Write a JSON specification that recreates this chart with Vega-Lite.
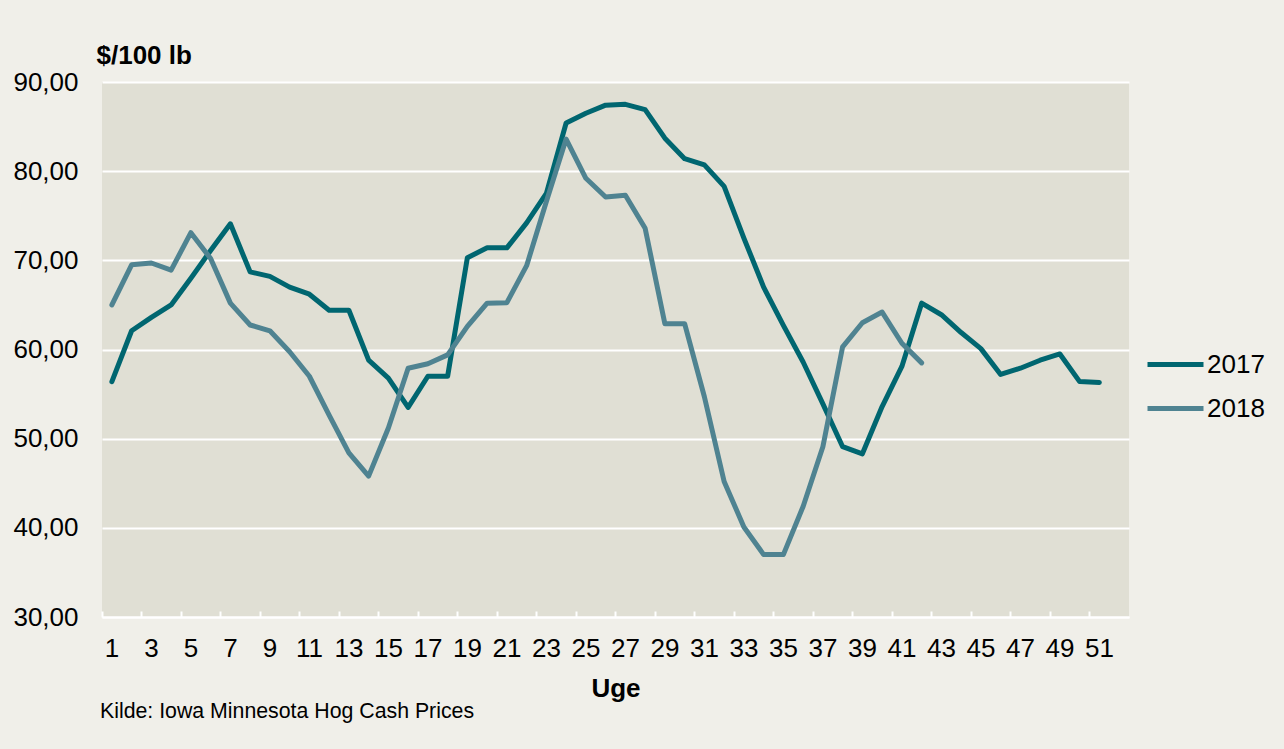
{
  "$schema": "https://vega.github.io/schema/vega-lite/v6.json",
  "width": 1027,
  "height": 535,
  "autosize": {"type": "none"},
  "padding": {"left": 102, "top": 82, "right": 155, "bottom": 132},
  "background": "#f0efe9",
  "config": {
    "view": {"fill": "#e0dfd4", "stroke": null},
    "font": "Liberation Sans"
  },
  "title": {
    "text": "Kilde: Iowa Minnesota Hog Cash Prices",
    "orient": "bottom",
    "anchor": "start",
    "frame": "group",
    "fontSize": 21.3,
    "fontWeight": "normal",
    "color": "#000000",
    "font": "Liberation Sans",
    "dx": -2,
    "offset": 0
  },
  "data": {
    "values": [
      {"week": 1, "year": "2017", "price": 56.4},
      {"week": 2, "year": "2017", "price": 62.1},
      {"week": 3, "year": "2017", "price": 63.6},
      {"week": 4, "year": "2017", "price": 65.0},
      {"week": 5, "year": "2017", "price": 68.0},
      {"week": 6, "year": "2017", "price": 71.1},
      {"week": 7, "year": "2017", "price": 74.1},
      {"week": 8, "year": "2017", "price": 68.7},
      {"week": 9, "year": "2017", "price": 68.2},
      {"week": 10, "year": "2017", "price": 67.0},
      {"week": 11, "year": "2017", "price": 66.2},
      {"week": 12, "year": "2017", "price": 64.4},
      {"week": 13, "year": "2017", "price": 64.4},
      {"week": 14, "year": "2017", "price": 58.8},
      {"week": 15, "year": "2017", "price": 56.8},
      {"week": 16, "year": "2017", "price": 53.5},
      {"week": 17, "year": "2017", "price": 57.0},
      {"week": 18, "year": "2017", "price": 57.0},
      {"week": 19, "year": "2017", "price": 70.3},
      {"week": 20, "year": "2017", "price": 71.4},
      {"week": 21, "year": "2017", "price": 71.4},
      {"week": 22, "year": "2017", "price": 74.2},
      {"week": 23, "year": "2017", "price": 77.5},
      {"week": 24, "year": "2017", "price": 85.4},
      {"week": 25, "year": "2017", "price": 86.5},
      {"week": 26, "year": "2017", "price": 87.4},
      {"week": 27, "year": "2017", "price": 87.5},
      {"week": 28, "year": "2017", "price": 86.9},
      {"week": 29, "year": "2017", "price": 83.7},
      {"week": 30, "year": "2017", "price": 81.4},
      {"week": 31, "year": "2017", "price": 80.7},
      {"week": 32, "year": "2017", "price": 78.3},
      {"week": 33, "year": "2017", "price": 72.5},
      {"week": 34, "year": "2017", "price": 67.0},
      {"week": 35, "year": "2017", "price": 62.7},
      {"week": 36, "year": "2017", "price": 58.6},
      {"week": 37, "year": "2017", "price": 53.9},
      {"week": 38, "year": "2017", "price": 49.1},
      {"week": 39, "year": "2017", "price": 48.3},
      {"week": 40, "year": "2017", "price": 53.6},
      {"week": 41, "year": "2017", "price": 58.1},
      {"week": 42, "year": "2017", "price": 65.2},
      {"week": 43, "year": "2017", "price": 63.9},
      {"week": 44, "year": "2017", "price": 61.9},
      {"week": 45, "year": "2017", "price": 60.1},
      {"week": 46, "year": "2017", "price": 57.2},
      {"week": 47, "year": "2017", "price": 57.9},
      {"week": 48, "year": "2017", "price": 58.8},
      {"week": 49, "year": "2017", "price": 59.5},
      {"week": 50, "year": "2017", "price": 56.4},
      {"week": 51, "year": "2017", "price": 56.3},
      {"week": 1, "year": "2018", "price": 65.0},
      {"week": 2, "year": "2018", "price": 69.5},
      {"week": 3, "year": "2018", "price": 69.7},
      {"week": 4, "year": "2018", "price": 68.9},
      {"week": 5, "year": "2018", "price": 73.1},
      {"week": 6, "year": "2018", "price": 70.2},
      {"week": 7, "year": "2018", "price": 65.2},
      {"week": 8, "year": "2018", "price": 62.75},
      {"week": 9, "year": "2018", "price": 62.1},
      {"week": 10, "year": "2018", "price": 59.75},
      {"week": 11, "year": "2018", "price": 57.0},
      {"week": 12, "year": "2018", "price": 52.65},
      {"week": 13, "year": "2018", "price": 48.4},
      {"week": 14, "year": "2018", "price": 45.8},
      {"week": 15, "year": "2018", "price": 51.2},
      {"week": 16, "year": "2018", "price": 57.9},
      {"week": 17, "year": "2018", "price": 58.4},
      {"week": 18, "year": "2018", "price": 59.4},
      {"week": 19, "year": "2018", "price": 62.6},
      {"week": 20, "year": "2018", "price": 65.2},
      {"week": 21, "year": "2018", "price": 65.25},
      {"week": 22, "year": "2018", "price": 69.4},
      {"week": 23, "year": "2018", "price": 76.6},
      {"week": 24, "year": "2018", "price": 83.6},
      {"week": 25, "year": "2018", "price": 79.2},
      {"week": 26, "year": "2018", "price": 77.1},
      {"week": 27, "year": "2018", "price": 77.3},
      {"week": 28, "year": "2018", "price": 73.6},
      {"week": 29, "year": "2018", "price": 62.9},
      {"week": 30, "year": "2018", "price": 62.9},
      {"week": 31, "year": "2018", "price": 54.7},
      {"week": 32, "year": "2018", "price": 45.2},
      {"week": 33, "year": "2018", "price": 40.1},
      {"week": 34, "year": "2018", "price": 37.0},
      {"week": 35, "year": "2018", "price": 37.0},
      {"week": 36, "year": "2018", "price": 42.4},
      {"week": 37, "year": "2018", "price": 49.1},
      {"week": 38, "year": "2018", "price": 60.3},
      {"week": 39, "year": "2018", "price": 63.0},
      {"week": 40, "year": "2018", "price": 64.2},
      {"week": 41, "year": "2018", "price": 60.7},
      {"week": 42, "year": "2018", "price": 58.5}
    ]
  },
  "mark": {"type": "line", "strokeWidth": 5, "strokeCap": "round", "strokeJoin": "round"},
  "encoding": {
    "x": {
      "field": "week",
      "type": "ordinal",
      "scale": {
        "type": "band",
        "domain": [1,2,3,4,5,6,7,8,9,10,11,12,13,14,15,16,17,18,19,20,21,22,23,24,25,26,27,28,29,30,31,32,33,34,35,36,37,38,39,40,41,42,43,44,45,46,47,48,49,50,51,52],
        "paddingInner": 0,
        "paddingOuter": 0
      },
      "axis": {
        "title": "Uge",
        "titleFontSize": 26,
        "titleFontWeight": "bold",
        "titleColor": "#000000",
        "titlePadding": 14,
        "values": [1,3,5,7,9,11,13,15,17,19,21,23,25,27,29,31,33,35,37,39,41,43,45,47,49,51],
        "labelAngle": 0,
        "labelFontSize": 26,
        "labelColor": "#000000",
        "labelPadding": 37,
        "labelBaseline": "middle",
        "bandPosition": 0,
        "domainColor": "#ffffff",
        "domainWidth": 2,
        "tickColor": "#ffffff",
        "tickWidth": 2,
        "tickSize": -6,
        "grid": false
      }
    },
    "y": {
      "field": "price",
      "type": "quantitative",
      "scale": {"domain": [30, 90]},
      "axis": {
        "values": [30, 40, 50, 60, 70, 80, 90],
        "grid": true,
        "gridColor": "#ffffff",
        "gridWidth": 2,
        "domain": false,
        "ticks": false,
        "labelFontSize": 26,
        "labelColor": "#000000",
        "labelPadding": 24,
        "labelExpr": "replace(format(datum.value, '.2f'), '.', ',')",
        "title": "$/100 lb",
        "titleAngle": 0,
        "titleAlign": "left",
        "titleBaseline": "alphabetic",
        "titleX": -6,
        "titleY": -19,
        "titleFontSize": 26,
        "titleFontWeight": "bold",
        "titleColor": "#000000"
      }
    },
    "color": {
      "field": "year",
      "type": "nominal",
      "scale": {"domain": ["2017", "2018"], "range": ["#006670", "#4f8391"]},
      "legend": {
        "orient": "none",
        "legendX": 1043,
        "legendY": 252,
        "title": null,
        "padding": 0,
        "symbolType": "stroke",
        "symbolSize": 3136,
        "symbolStrokeWidth": 5,
        "labelFontSize": 26,
        "labelColor": "#000000",
        "labelOffset": 1,
        "rowPadding": 0
      }
    }
  }
}
